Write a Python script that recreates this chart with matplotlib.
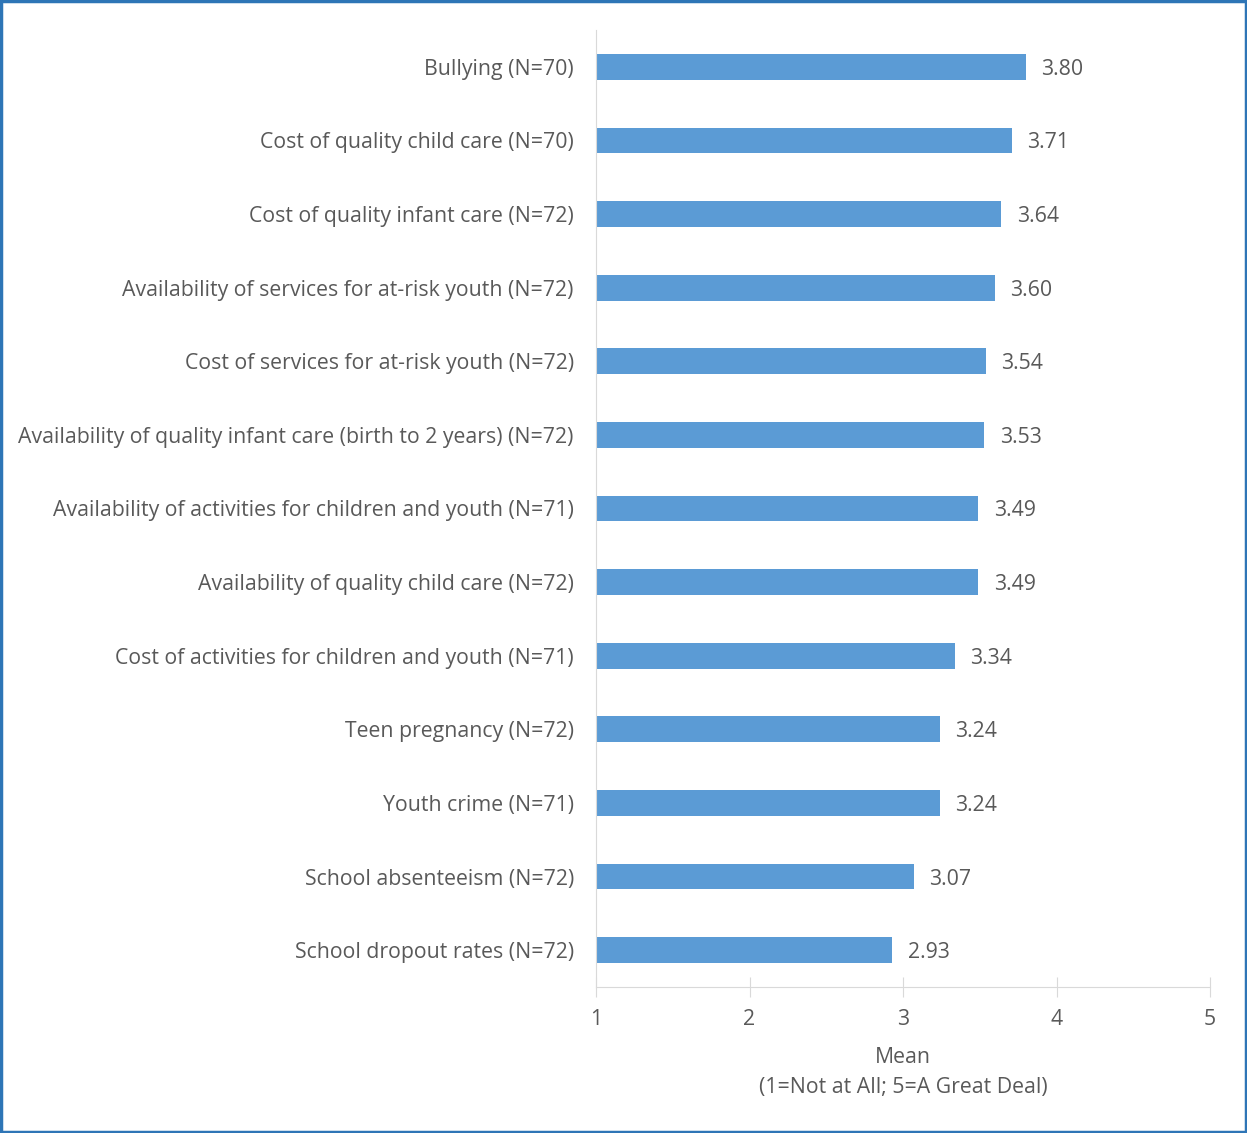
import matplotlib.pyplot as plt
from matplotlib.patches import Rectangle

# данные
categories = [
    'Bullying (N=70)',
    'Cost of quality child care (N=70)',
    'Cost of quality infant care (N=72)',
    'Availability of services for at-risk youth (N=72)',
    'Cost of services for at-risk youth (N=72)',
    'Availability of quality infant care (birth to 2 years) (N=72)',
    'Availability of activities for children and youth (N=71)',
    'Availability of quality child care (N=72)',
    'Cost of activities for children and youth (N=71)',
    'Teen pregnancy (N=72)',
    'Youth crime (N=71)',
    'School absenteeism (N=72)',
    'School dropout rates (N=72)',
]
means = [3.80, 3.71, 3.64, 3.60, 3.54, 3.53, 3.49, 3.49, 3.34, 3.24, 3.24, 3.07, 2.93]
x_ticks = [1, 2, 3, 4, 5]

text_color = '#595959'
bar_color = '#5B9BD5'
fs = 15.3
plt.rcParams['font.family'] = ['Open Sans', 'DejaVu Sans']

fig = plt.figure(figsize=(12.47, 11.33), dpi=100)
ax = fig.add_axes([596 / 1247, 1 - 987 / 1133, (1210 - 596) / 1247, (987 - 30) / 1133])

ypos = list(range(len(categories)))
ax.barh(ypos, [m - 1 for m in means], left=1, height=0.35, color=bar_color)
for y, m in zip(ypos, means):
    ax.text(m + 0.1, y, f'{m:.2f}', va='center_baseline', ha='left',
            fontsize=fs, color=text_color)

ax.set_xlim(1, 5)
ax.set_ylim(len(categories) - 0.5, -0.5)
ax.set_yticks(ypos)
ax.set_yticklabels(categories, fontsize=fs, color=text_color, va='center_baseline')
ax.set_xticks(x_ticks)
ax.set_xticklabels([str(t) for t in x_ticks], fontsize=fs, color=text_color)
ax.tick_params(axis='y', length=0, pad=16)
ax.tick_params(axis='x', direction='inout', length=14, color='#D9D9D9', pad=9)

for side in ['top', 'right']:
    ax.spines[side].set_visible(False)
ax.spines['left'].set_color('#D9D9D9')
ax.spines['bottom'].set_color('#D9D9D9')

ax.set_xlabel('Mean\n(1=Not at All; 5=A Great Deal)', fontsize=fs,
              color=text_color, labelpad=12, linespacing=1.55)

# рамка вокруг рисунка
fig.patches.append(Rectangle((0.001, 0.001), 0.998, 0.998, transform=fig.transFigure,
                             fill=False, edgecolor='#2E75B6', linewidth=2.5))

fig.savefig('out.png', dpi=100)
